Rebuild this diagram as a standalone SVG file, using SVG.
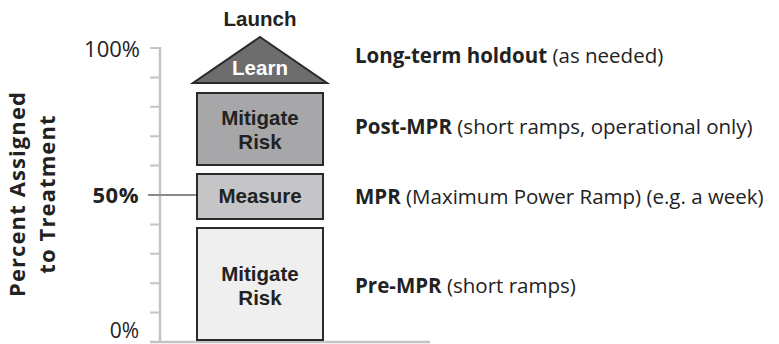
<svg xmlns="http://www.w3.org/2000/svg" width="779" height="344" viewBox="0 0 779 344">
<style>
.t{font-family:"Open Sans","Liberation Sans",sans-serif;fill:#222}
.b{font-weight:bold}
.box{stroke:#2a2a2a;stroke-width:2}
.ax{stroke:#c4c4c4;stroke-width:2.5;fill:none}
.tk{stroke:#c4c4c4;stroke-width:2;fill:none}
.lbl{font-size:20.5px}
.bx{font-family:"Liberation Sans",Arial,sans-serif;fill:#222;font-size:20.5px;font-weight:bold;text-anchor:middle}
.yl{font-size:22px;font-weight:bold;text-anchor:middle;letter-spacing:1.1px}
</style>
<rect width="779" height="344" fill="#fff"/>
<g id="axes">
<line class="ax" x1="160" y1="47" x2="160" y2="343"/>
<line class="ax" x1="150" y1="342" x2="430" y2="342"/>
<path class="tk" d="M150 48H160M150 77.4H160M150 106.8H160M150 136.2H160M150 165.6H160M150 224.4H160M150 253.8H160M150 283.2H160M150 312.6H160"/>
<line x1="148" y1="195" x2="197" y2="195" stroke="#8a8a8a" stroke-width="2"/>
<text class="t" x="140" y="57" font-size="22" text-anchor="end">100%</text>
<text class="t b" x="139" y="203" font-size="22" text-anchor="end" letter-spacing="0.5">50%</text>
<text class="t" x="139" y="338" font-size="21" text-anchor="end">0%</text>
<text class="t yl" transform="translate(25,194) rotate(-90)">Percent Assigned</text>
<text class="t yl" transform="translate(55,194) rotate(-90)">to Treatment</text>
</g>
<g id="learn">
<polygon class="box" points="260,37 327,83 193,83" fill="#6d6d6d"/>
<text class="bx" x="260" y="75" style="fill:#fff">Learn</text>
<text class="bx" x="260" y="26">Launch</text>
</g>
<g id="post-mitigate">
<rect class="box" x="197" y="93" width="126" height="72" fill="#a7a7a9"/>
<text class="bx" x="260" y="125">Mitigate</text>
<text class="bx" x="260" y="149">Risk</text>
</g>
<g id="measure">
<rect class="box" x="197" y="174" width="126" height="45" fill="#c5c5c7"/>
<text class="bx" x="260" y="203">Measure</text>
</g>
<g id="pre-mitigate">
<rect class="box" x="197" y="228" width="126" height="112" fill="#efefef"/>
<text class="bx" x="260" y="281">Mitigate</text>
<text class="bx" x="260" y="305">Risk</text>
</g>
<g id="labels">
<text class="t lbl" x="355" y="63"><tspan class="b">Long-term holdout</tspan> (as needed)</text>
<text class="t lbl" x="355" y="134"><tspan class="b">Post-MPR</tspan> (short ramps, operational only)</text>
<text class="t lbl" x="355" y="204"><tspan class="b">MPR</tspan> (Maximum Power Ramp) (e.g. a week)</text>
<text class="t lbl" x="355" y="293"><tspan class="b">Pre-MPR</tspan> (short ramps)</text>
</g>
</svg>
